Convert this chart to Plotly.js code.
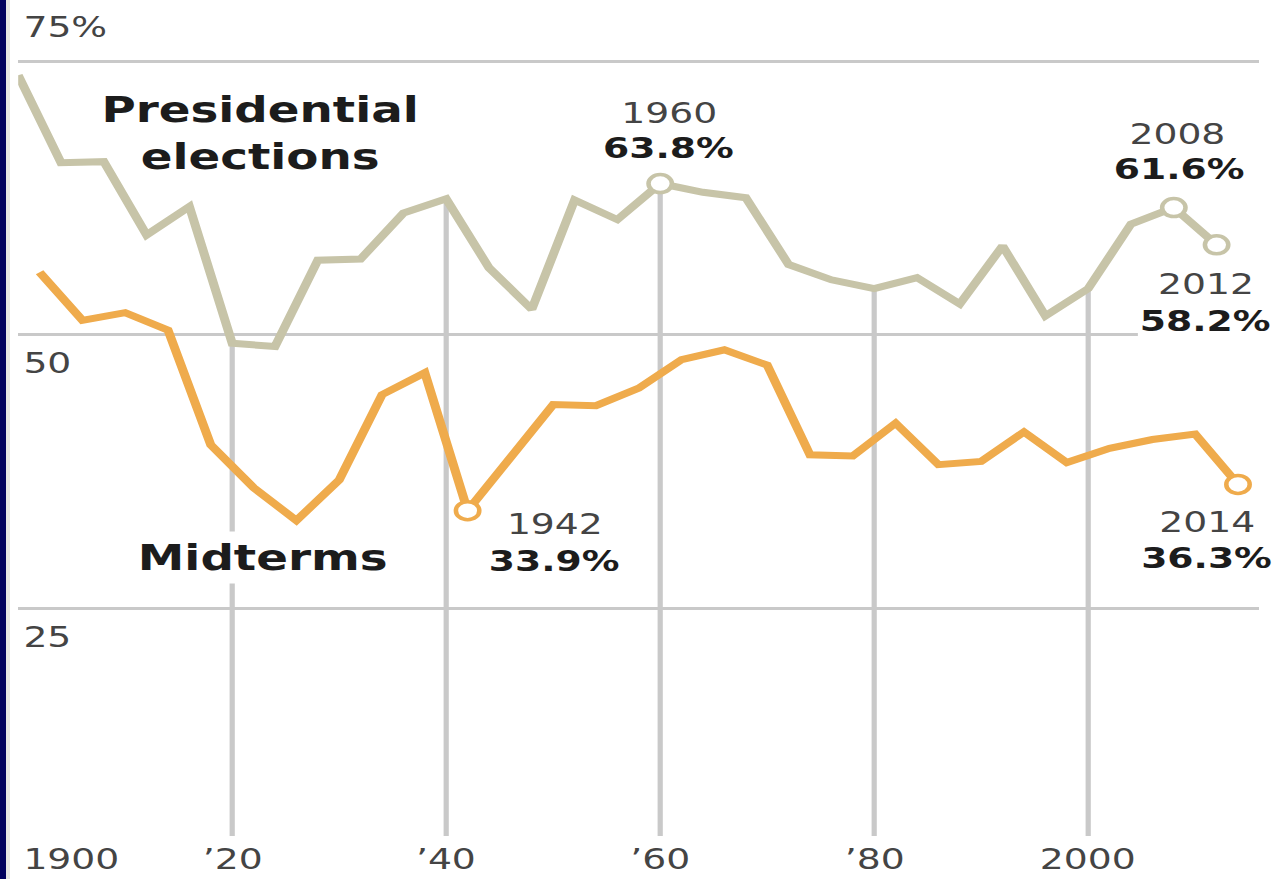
<!DOCTYPE html>
<html>
<head>
<meta charset="utf-8">
<script src="https://cdn.plot.ly/plotly-3.0.1.min.js"></script>
<style>
  html, body { margin: 0; padding: 0; background: #fff; overflow: hidden; width: 1275px; height: 879px; }
  #chart { position: absolute; left: 0; top: 0; width: 981px; height: 879px;
           transform: scaleX(1.29969); transform-origin: 0 0; }
  #edge { position: absolute; left: 0; top: 0; width: 6px; height: 879px; background: #00005f;
          border-right: 4px solid #e4e4e4; z-index: 5; }
</style>
</head>
<body>
<div id="chart"></div>
<div id="edge"></div>
<script>
// Voter turnout, presidential election years
const presYears = [1900, 1904, 1908, 1912, 1916, 1920, 1924, 1928, 1932, 1936, 1940, 1944, 1948,
                   1952, 1956, 1960, 1964, 1968, 1972, 1976, 1980, 1984, 1988, 1992, 1996, 2000,
                   2004, 2008, 2012];
const presTurnout = [73.7, 65.7, 65.8, 59.1, 61.7, 49.2, 48.9, 56.8, 56.9, 61.1, 62.4, 56.1, 52.3,
                     62.3, 60.5, 63.8, 63.0, 62.5, 56.4, 55.0, 54.2, 55.2, 52.8, 58.1, 51.7, 54.2,
                     60.1, 61.6, 58.2];

// Voter turnout, midterm election years
const midYears = [1902, 1906, 1910, 1914, 1918, 1922, 1926, 1930, 1934, 1938, 1942, 1946, 1950,
                  1954, 1958, 1962, 1966, 1970, 1974, 1978, 1982, 1986, 1990, 1994, 1998, 2002,
                  2006, 2010, 2014];
const midTurnout = [55.7, 51.3, 52.0, 50.4, 39.9, 36.0, 33.0, 36.7, 44.5, 46.5, 33.9, 38.7, 43.6,
                    43.5, 45.1, 47.7, 48.6, 47.2, 39.0, 38.9, 41.9, 38.1, 38.4, 41.1, 38.3, 39.6,
                    40.4, 40.9, 36.3];

// Highlighted elections
const presHighlights = [1960, 2008, 2012];
const midHighlights = [1942, 2014];

// Axis labels
const yTickVals = [75, 50, 25];
const yTickText = ['75%', '50', '25'];
const xTickVals = [1900, 1920, 1940, 1960, 1980, 2000];
const xTickText = ['1900', '\u201920', '\u201940', '\u201960', '\u201980', '2000'];

// Series names
const presName = 'Presidential<br>elections';
const midName = 'Midterms';

// Drawing settings (horizontal offsets are in unscaled chart pixels)
const SX = 1275 / 981;
const PRES_COLOR = '#c7c4a8';
const MID_COLOR = '#efab4c';
const GRID_COLOR = '#c9c9c9';
const FONT = 'DejaVu Sans';
const LABEL_COLOR = '#444';
const BOLD_COLOR = '#1c1c1c';
const Y_MIN = 4.16, Y_MAX = 80.03;

function valueAt(years, vals, yr) { return vals[years.indexOf(yr)]; }

const traces = [
  { x: presYears, y: presTurnout, type: 'scatter', mode: 'lines',
    line: { color: PRES_COLOR, width: 7 }, hoverinfo: 'skip' },
  { x: midYears, y: midTurnout, type: 'scatter', mode: 'lines',
    line: { color: MID_COLOR, width: 7 }, hoverinfo: 'skip' },
  { x: presHighlights, y: presHighlights.map(yr => valueAt(presYears, presTurnout, yr)),
    type: 'scatter', mode: 'markers', cliponaxis: false, hoverinfo: 'skip',
    marker: { size: 18, color: '#fff', line: { color: PRES_COLOR, width: 3.5 } } },
  { x: midHighlights, y: midHighlights.map(yr => valueAt(midYears, midTurnout, yr)),
    type: 'scatter', mode: 'markers', cliponaxis: false, hoverinfo: 'skip',
    marker: { size: 18, color: '#fff', line: { color: MID_COLOR, width: 3.5 } } }
];

// Vertical guide lines dropping from the presidential line to the baseline
const shapes = xTickVals.slice(1).map(yr => ({
  type: 'line', xref: 'x', yref: 'y', layer: 'below',
  x0: yr, x1: yr, y0: Y_MIN, y1: valueAt(presYears, presTurnout, yr),
  line: { color: GRID_COLOR, width: 4 }
}));

const annotations = [];

// Y tick labels: the top one sits above its grid line, the rest below
yTickVals.forEach((v, i) => {
  annotations.push({
    x: 1900, y: v, xref: 'x', yref: 'y', xanchor: 'left', yanchor: 'middle',
    xshift: 1.5, yshift: i === 0 ? 34.5 : -28.5, showarrow: false,
    text: yTickText[i], font: { family: FONT, size: 29, color: LABEL_COLOR }
  });
});

// X tick labels
xTickVals.forEach((v, i) => {
  annotations.push({
    x: v, y: 0, xref: 'x', yref: 'paper', xanchor: i === 0 ? 'left' : 'center', yanchor: 'middle',
    xshift: i === 0 ? 1.5 : 0, yshift: -22.5, showarrow: false,
    text: xTickText[i], font: { family: FONT, size: 29, color: LABEL_COLOR }
  });
});

// Callouts for highlighted elections: year on top, turnout in bold underneath
const callouts = [
  { years: presYears, vals: presTurnout, year: 1960, yr: [9.5, -70.5], val: [8, -35.5] },
  { years: presYears, vals: presTurnout, year: 2008, yr: [3.5, -74], val: [5.5, -39] },
  { years: presYears, vals: presTurnout, year: 2012, yr: [-10.5, 39], val: [-10.5, 76] },
  { years: midYears, vals: midTurnout, year: 1942, yr: [88, 13], val: [86.5, 50] },
  { years: midYears, vals: midTurnout, year: 2014, yr: [-30.5, 38], val: [-31.5, 74] }
];
callouts.forEach(c => {
  const v = valueAt(c.years, c.vals, c.year);
  annotations.push({
    x: c.year, y: v, xref: 'x', yref: 'y', xanchor: 'center', yanchor: 'middle',
    xshift: c.yr[0] / SX, yshift: -c.yr[1], showarrow: false, bgcolor: '#fff',
    text: String(c.year), font: { family: FONT, size: 29, color: LABEL_COLOR }
  });
  annotations.push({
    x: c.year, y: v, xref: 'x', yref: 'y', xanchor: 'center', yanchor: 'middle',
    xshift: c.val[0] / SX, yshift: -c.val[1], showarrow: false, bgcolor: '#fff',
    text: '<b>' + v.toFixed(1) + '%</b>', font: { family: FONT, size: 29, color: BOLD_COLOR }
  });
});

// Series names
annotations.push({
  x: 1922.6, y: 68.42, xref: 'x', yref: 'y', xanchor: 'center', yanchor: 'middle',
  showarrow: false, align: 'center', text: '<b>' + presName + '</b>',
  font: { family: FONT, size: 36, color: BOLD_COLOR }
});
annotations.push({
  x: 1922.8, y: 29.6, xref: 'x', yref: 'y', xanchor: 'center', yanchor: 'middle',
  showarrow: false, bgcolor: '#fff', borderpad: 5, text: '<b>' + midName + '</b>',
  font: { family: FONT, size: 36, color: BOLD_COLOR }
});

const layout = {
  width: 981, height: 879,
  margin: { l: 14, r: 12, t: 6, b: 43, pad: 0 },
  paper_bgcolor: '#fff', plot_bgcolor: '#fff',
  showlegend: false,
  font: { family: FONT, size: 29, color: LABEL_COLOR },
  xaxis: { range: [1900, 2016], showgrid: false, zeroline: false, showticklabels: false,
           ticks: '', showline: false, fixedrange: true },
  yaxis: { range: [Y_MIN, Y_MAX], tickvals: yTickVals, showticklabels: false, ticks: '',
           showgrid: true, gridcolor: GRID_COLOR, gridwidth: 3, zeroline: false,
           showline: false, fixedrange: true },
  shapes: shapes,
  annotations: annotations
};

Plotly.newPlot('chart', traces, layout, { displayModeBar: false, staticPlot: true });
</script>
</body>
</html>
